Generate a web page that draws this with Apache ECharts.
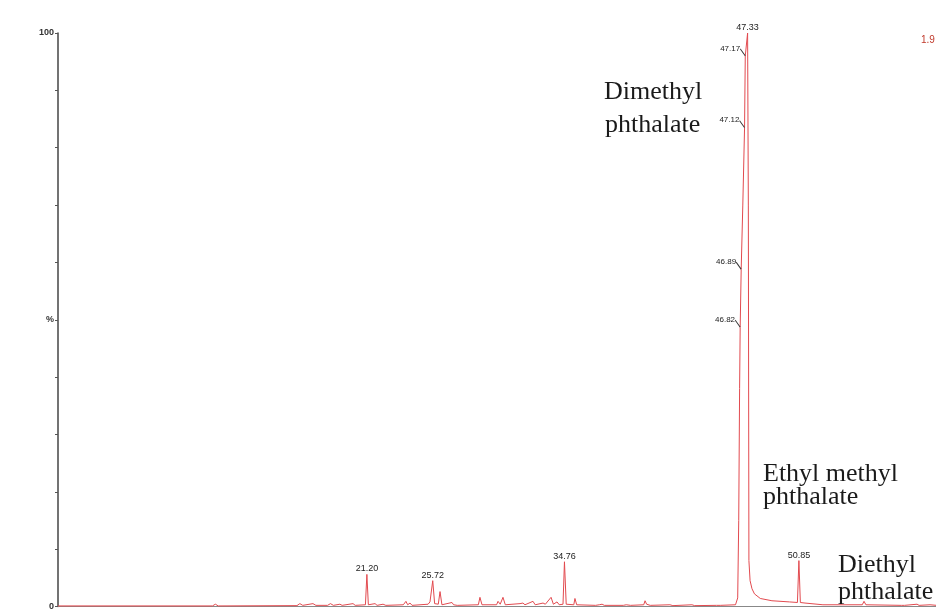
<!DOCTYPE html>
<html>
<head>
<meta charset="utf-8">
<script src="https://cdn.jsdelivr.net/npm/echarts@6/dist/echarts.min.js"></script>
<style>
  html, body { margin: 0; padding: 0; background: #fff; }
  #chromatogram { width: 936px; height: 611px; }
</style>
</head>
<body>
<div id="chromatogram"></div>
<script>
// retention time (min) and relative intensity (%)
const traceTime = [
  0, 10.6, 10.8, 11.0, 16.4, 16.6, 16.8, 17.5, 17.7, 18.5, 18.7, 18.9, 19.35, 19.5,
  20.25, 20.4, 21.1, 21.2, 21.3, 21.76, 21.9, 22.31, 22.5, 23.7, 23.88, 24.0, 24.16, 24.3,
  25.4, 25.53, 25.72, 25.85, 26.1, 26.22, 26.35, 27.04, 27.15, 27.25, 27.4,
  28.85, 28.96, 29.1, 30.1, 30.2, 30.35, 30.54, 30.7, 31.71, 31.8, 31.91, 32.05,
  32.6, 32.75, 33.29, 33.45, 33.84, 34.0, 34.25, 34.4, 34.66, 34.76, 34.88,
  35.4, 35.48, 35.6, 36.9, 36.99, 37.15, 37.34, 37.5, 38.8, 38.92, 39.0, 39.12, 39.3,
  40.2, 40.29, 40.4, 40.49, 40.65, 42.0, 42.2, 43.51, 43.7, 45.2, 45.3, 45.45,
  46.5, 46.65, 46.72, 46.78, 46.82, 46.89, 47.0, 47.12, 47.17, 47.33,
  47.38, 47.42, 47.5, 47.63, 47.8, 48.2, 49.0, 50.2, 50.75, 50.85, 50.95,
  51.27, 51.4, 52.5, 55.2, 55.32, 55.45, 57.9, 58.0, 58.1, 58.96, 59.1, 59.85, 60.3
];
const traceIntensity = [
  0.1, 0.1, 0.4, 0.1, 0.15, 0.5, 0.2, 0.5, 0.2, 0.2, 0.5, 0.2, 0.4, 0.2,
  0.5, 0.2, 0.3, 5.6, 0.3, 0.5, 0.2, 0.4, 0.2, 0.3, 0.9, 0.3, 0.6, 0.2,
  0.4, 0.8, 4.5, 0.5, 0.4, 2.6, 0.3, 0.7, 0.3, 0.6, 0.2,
  0.3, 1.6, 0.3, 0.3, 0.9, 0.4, 1.6, 0.3, 0.5, 0.3, 0.6, 0.3,
  0.9, 0.3, 0.6, 0.4, 1.6, 0.4, 0.8, 0.3, 0.4, 7.8, 0.4,
  0.3, 1.4, 0.3, 0.2, 0.5, 0.3, 0.4, 0.2, 0.2, 0.5, 0.3, 0.6, 0.2,
  0.3, 1.0, 0.4, 0.6, 0.2, 0.3, 0.15, 0.3, 0.15, 0.2, 0.5, 0.2,
  0.3, 1.5, 15, 38, 48.7, 58.8, 70, 83.5, 96, 100,
  70, 8, 4.5, 3.1, 2.2, 1.4, 1.0, 0.8, 0.7, 8, 0.7,
  0.6, 0.4, 0.3, 0.3, 0.9, 0.3, 0.2, 0.4, 0.2, 0.4, 0.2, 0.3, 0.2
];

// labelled peak apexes
const apexTimes = [21.20, 25.72, 34.76, 47.33, 50.85];
const apexLabels = ['21.20', '25.72', '34.76', '47.33', '50.85'];
const apexHeights = [5.6, 4.5, 7.8, 100, 8];

// labelled points on the rising edge of the big peak
const edgeTimes = [46.82, 46.89, 47.12, 47.17];
const edgeLabels = ['46.82', '46.89', '47.12', '47.17'];
const edgeHeights = [48.7, 58.8, 83.5, 96];

const yLabels = { 0: '0', 50: '%', 100: '100' };

const traceData = traceTime.map((t, i) => [t, traceIntensity[i]]);

const apexMarks = apexTimes.map((t, i) => ({
  coord: [t, apexHeights[i]],
  symbol: 'circle',
  symbolSize: 0,
  label: {
    show: true,
    position: 'top',
    distance: 1,
    fontSize: 9,
    formatter: apexLabels[i]
  }
}));

const edgeMarks = edgeTimes.map((t, i) => ({
  coord: [t, edgeHeights[i]],
  symbol: 'path://M0,0L10,10',
  symbolSize: [5, 7],
  symbolOffset: [-2.5, -3.5],
  itemStyle: { color: 'none', borderColor: '#333', borderWidth: 1 },
  label: {
    show: true,
    position: 'left',
    distance: 0,
    offset: [2, -4],
    formatter: edgeLabels[i]
  }
}));

const serifText = (text, x, y) => ({
  type: 'text',
  left: x,
  top: y,
  style: {
    text: text,
    font: '26px "Liberation Serif", "Times New Roman", serif',
    fill: '#1a1a1a'
  }
});

const myChart = echarts.init(document.getElementById('chromatogram'));
myChart.setOption({
  animation: false,
  grid: { left: 58, right: 0, top: 33, bottom: 3 },
  xAxis: {
    type: 'value',
    min: 0,
    max: 60.26,
    axisLine: { show: true, lineStyle: { color: '#888', width: 1 } },
    axisTick: { show: false },
    axisLabel: { show: false },
    splitLine: { show: false }
  },
  yAxis: {
    type: 'value',
    min: 0,
    max: 100,
    interval: 10,
    axisLine: { show: true, lineStyle: { color: '#444', width: 1.5 } },
    axisTick: { show: true, length: 3, lineStyle: { color: '#555' } },
    axisLabel: {
      margin: 4,
      fontSize: 9,
      fontWeight: 'bold',
      fontFamily: 'Liberation Sans, Arial, sans-serif',
      color: '#333',
      formatter: v => yLabels[v] || ''
    },
    splitLine: { show: false }
  },
  series: [
    {
      type: 'line',
      data: traceData,
      showSymbol: false,
      symbol: 'none',
      lineStyle: { color: '#e24a4f', width: 1 },
      markPoint: {
        silent: true,
        label: {
          color: '#222',
          fontSize: 8,
          fontFamily: 'Liberation Sans, Arial, sans-serif'
        },
        data: apexMarks.concat(edgeMarks)
      }
    }
  ],
  graphic: [
    serifText('Dimethyl', 604, 79),
    serifText('phthalate', 605, 112),
    serifText('Ethyl methyl', 763, 461),
    serifText('phthalate', 763, 484),
    serifText('Diethyl', 838, 552),
    serifText('phthalate', 838, 579),
    {
      type: 'text',
      left: 921,
      top: 35,
      style: {
        text: '1.9',
        font: '10px "Liberation Sans", Arial, sans-serif',
        fill: '#c0392b'
      }
    }
  ]
});
</script>
</body>
</html>
